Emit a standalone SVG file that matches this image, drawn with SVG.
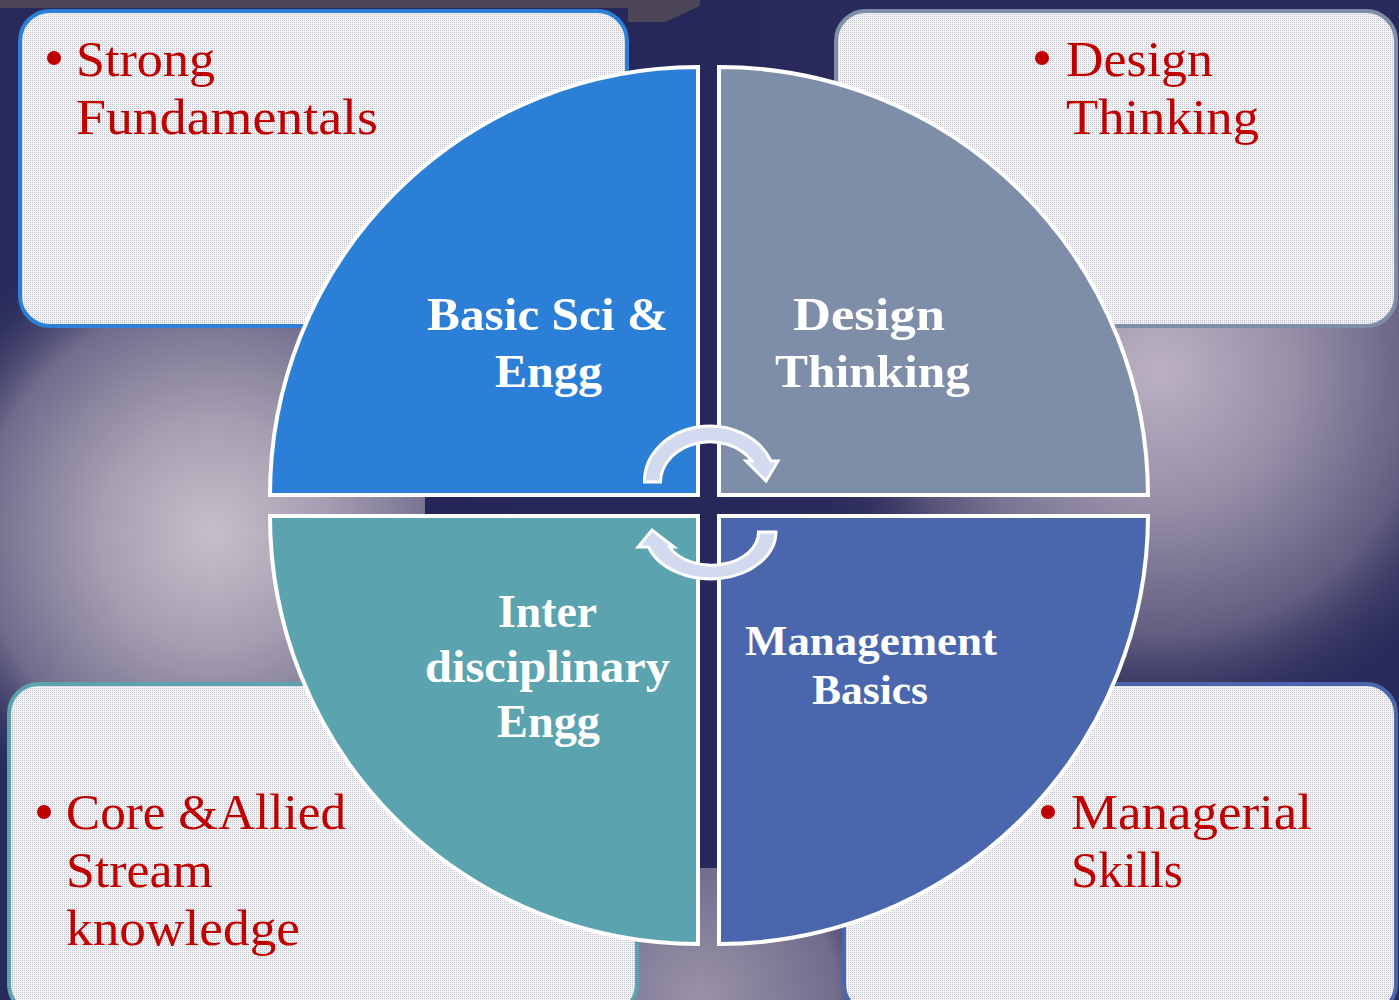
<svg xmlns="http://www.w3.org/2000/svg" width="1399" height="1000" viewBox="0 0 1399 1000">
  <defs>
    <style>
      .box { fill: url(#dots); stroke-width: 4; }
      .quad { stroke: #ffffff; stroke-width: 4; stroke-linejoin: miter; }
      .lbl { font-family: "Liberation Serif", "Times New Roman", serif; font-weight: bold; fill: #ffffff; text-anchor: middle; }
      .red { font-family: "Liberation Serif", "Times New Roman", serif; font-size: 50px; fill: #c00000; }
      .bul { fill: #c00000; }
      .arrow { fill: #d1daee; stroke: #ffffff; stroke-width: 3; stroke-linejoin: miter; }
    </style>
    <pattern id="dots" width="2" height="2" patternUnits="userSpaceOnUse">
      <rect width="2" height="2" fill="#f4f4f6"/>
      <rect width="1" height="1" fill="#c3c3cc"/>
    </pattern>
    <radialGradient id="glowL" cx="213" cy="533" r="330" gradientUnits="userSpaceOnUse">
      <stop offset="0" stop-color="#c6bfca"/>
      <stop offset="0.35" stop-color="#a59eb1"/>
      <stop offset="0.7" stop-color="#716c8c"/>
      <stop offset="1" stop-color="#292a5a" stop-opacity="0"/>
    </radialGradient>
    <radialGradient id="glowR" cx="1160" cy="370" r="380" gradientUnits="userSpaceOnUse">
      <stop offset="0" stop-color="#bcb1c3"/>
      <stop offset="0.35" stop-color="#9890a8"/>
      <stop offset="0.7" stop-color="#625d80"/>
      <stop offset="1" stop-color="#292a5a" stop-opacity="0"/>
    </radialGradient>
    <radialGradient id="glowB" cx="700" cy="1000" r="230" gradientUnits="userSpaceOnUse">
      <stop offset="0" stop-color="#9a93a8"/>
      <stop offset="0.6" stop-color="#716c8c"/>
      <stop offset="1" stop-color="#292a5a" stop-opacity="0"/>
    </radialGradient>
    <linearGradient id="darkFade" x1="425" y1="0" x2="1000" y2="0" gradientUnits="userSpaceOnUse">
      <stop offset="0" stop-color="#25255a"/>
      <stop offset="0.5" stop-color="#27285a"/>
      <stop offset="0.75" stop-color="#2a2a5c" stop-opacity="0.4"/>
      <stop offset="1" stop-color="#2a2a5c" stop-opacity="0"/>
    </linearGradient>
  </defs>

  <g id="background">
    <rect width="1399" height="1000" fill="#292a5a"/>
    <rect width="1399" height="1000" fill="url(#glowL)"/>
    <rect width="1399" height="1000" fill="url(#glowR)"/>
    <rect width="1399" height="1000" fill="url(#glowB)"/>
    <rect x="425" y="0" width="575" height="868" fill="url(#darkFade)"/>
    <polygon points="0,0 700,0 700,6 665,22 628,22 628,8 0,8" fill="#4d4658"/>
  </g>

  <g id="box-strong-fundamentals">
    <rect class="box" x="20" y="11" width="607" height="315" rx="30" stroke="#2b7fd6"/>
    <circle class="bul" cx="54" cy="58" r="7"/>
    <text class="red" x="76" y="76" textLength="139" lengthAdjust="spacingAndGlyphs">Strong</text>
    <text class="red" x="76" y="134" textLength="302" lengthAdjust="spacingAndGlyphs">Fundamentals</text>
  </g>

  <g id="box-design-thinking">
    <rect class="box" x="836" y="11" width="560" height="315" rx="30" stroke="#7f8ea8"/>
    <circle class="bul" cx="1042" cy="58" r="7"/>
    <text class="red" x="1066" y="76" textLength="147" lengthAdjust="spacingAndGlyphs">Design</text>
    <text class="red" x="1066" y="134" textLength="193" lengthAdjust="spacingAndGlyphs">Thinking</text>
  </g>

  <g id="box-core-allied">
    <rect class="box" x="9" y="684" width="628" height="330" rx="30" stroke="#5ba3ae"/>
    <circle class="bul" cx="44" cy="812" r="7"/>
    <text class="red" x="66" y="829" textLength="280" lengthAdjust="spacingAndGlyphs">Core &amp;Allied</text>
    <text class="red" x="66" y="887" textLength="147" lengthAdjust="spacingAndGlyphs">Stream</text>
    <text class="red" x="66" y="945" textLength="234" lengthAdjust="spacingAndGlyphs">knowledge</text>
  </g>

  <g id="box-managerial-skills">
    <rect class="box" x="844" y="684" width="552" height="330" rx="30" stroke="#4a67ae"/>
    <circle class="bul" cx="1048" cy="812" r="7"/>
    <text class="red" x="1071" y="829" textLength="241" lengthAdjust="spacingAndGlyphs">Managerial</text>
    <text class="red" x="1071" y="887" textLength="112" lengthAdjust="spacingAndGlyphs">Skills</text>
  </g>

  <g id="quad-basic-sci">
    <path class="quad" d="M698,495 L270,495 A428,428 0 0 1 698,67 Z" fill="#2b7fd6"/>
    <text class="lbl" x="547.5" y="330" font-size="47" textLength="241" lengthAdjust="spacingAndGlyphs">Basic Sci &amp;</text>
    <text class="lbl" x="548.5" y="387" font-size="47" textLength="107" lengthAdjust="spacingAndGlyphs">Engg</text>
  </g>

  <g id="quad-design-thinking">
    <path class="quad" d="M719,495 L719,67 A429,429 0 0 1 1148,495 Z" fill="#7f8ea8"/>
    <text class="lbl" x="869" y="330" font-size="47" textLength="152" lengthAdjust="spacingAndGlyphs">Design</text>
    <text class="lbl" x="872.5" y="387" font-size="47" textLength="195" lengthAdjust="spacingAndGlyphs">Thinking</text>
  </g>

  <g id="quad-interdisciplinary">
    <path class="quad" d="M698,516 L698,944 A428,428 0 0 1 270,516 Z" fill="#5ba3ae"/>
    <text class="lbl" x="547.5" y="627" font-size="46" textLength="99" lengthAdjust="spacingAndGlyphs">Inter</text>
    <text class="lbl" x="547.5" y="682" font-size="46" textLength="245" lengthAdjust="spacingAndGlyphs">disciplinary</text>
    <text class="lbl" x="548.5" y="737" font-size="46" textLength="103" lengthAdjust="spacingAndGlyphs">Engg</text>
  </g>

  <g id="quad-management">
    <path class="quad" d="M719,516 L1148,516 A429,429 0 0 1 719,944 Z" fill="#4a67ae"/>
    <text class="lbl" x="871" y="655" font-size="42" textLength="252" lengthAdjust="spacingAndGlyphs">Management</text>
    <text class="lbl" x="870" y="704" font-size="42" textLength="116" lengthAdjust="spacingAndGlyphs">Basics</text>
  </g>

  <g id="connectors">
    <path class="arrow" d="M644.5,482 A65.5,55 0 0 1 771,461 L778,461 L766,481 L746,461 L752,461 A49.5,41 0 0 0 660.5,482 Z"/>
    <path class="arrow" d="M776,532 A65.5,47 0 0 1 648.5,547 L638,547 L652,530 L674,547 L669.5,547 A47,33 0 0 0 758.5,532 Z"/>
  </g>
</svg>
